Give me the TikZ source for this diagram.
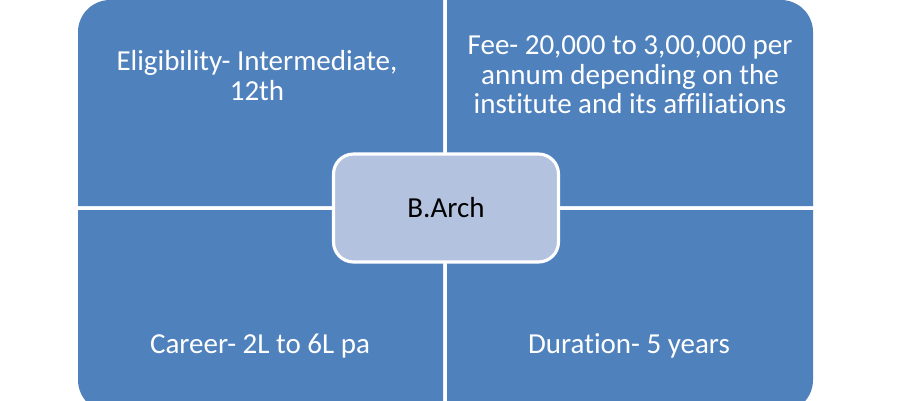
\documentclass[tikz,border=0pt]{standalone}
\usepackage{fontspec}
\setmainfont{Carlito}[Ligatures=NoCommon]
\usepackage{xcolor}
\usetikzlibrary{positioning}

\definecolor{quadblue}{HTML}{4F81BD}
\definecolor{hubblue}{HTML}{B3C2DE}

\begin{document}
\begin{tikzpicture}[x=0.02cm, y=-0.02cm,
        quad/.style={fill=quadblue},
        hub/.style={rectangle, fill=hubblue, draw=white, line width=1.8pt, rounded corners=0.4cm, minimum width=4.5cm, minimum height=2.16cm, font=\fontsize{16.5}{17}\selectfont},
        info/.style={text=white, align=center, inner sep=0pt, font=\fontsize{16.5}{17}\selectfont}
    ]
        \useasboundingbox (0, 0) rectangle (900, 400);
        \clip (0, 0) rectangle (900, 400);

        % Quadrants
        \fill[quad] (443, 206) -- (78, 206) -- (78, 32) arc[start angle=180, end angle=270, radius=32] -- (443, 0) -- cycle;
        \fill[quad] (447, 206) -- (447, 0) -- (781, 0) arc[start angle=270, end angle=360, radius=32] -- (813, 206) -- cycle;
        \fill[quad] (443, 210) -- (78, 210) -- (78, 380) arc[start angle=180, end angle=90, radius=32] -- (443, 412) -- cycle;
        \fill[quad] (447, 210) -- (813, 210) -- (813, 380) arc[start angle=0, end angle=90, radius=32] -- (447, 412) -- cycle;

        % Centre
        \node[hub] (barch) at (446, 208) {B.Arch};

        % Texts
        \node[info, anchor=north] (elig) at (257, 50) {Eligibility- Intermediate,\\12th};
        \node[info, anchor=north] (fee) at (630, 35) {Fee- 20,000 to 3,00,000 per\\annum depending on the\\institute and its affiliations};
        \node[info, anchor=base] (career) at (260, 353) {Career- 2L to 6L pa};
        \node[info, anchor=base] (duration) at (629, 353) {Duration- 5 years};
    \end{tikzpicture}
\end{document}
